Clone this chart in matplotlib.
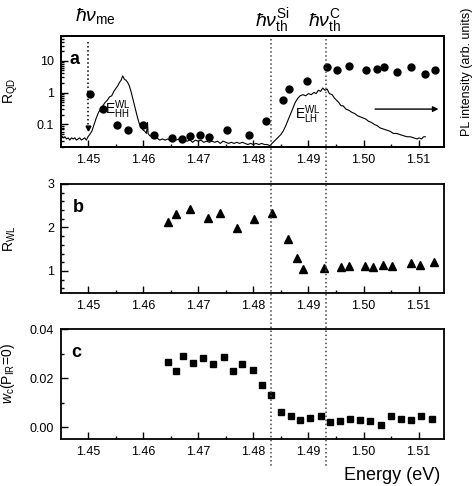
import matplotlib
matplotlib.use('Agg')
import matplotlib.pyplot as plt
from matplotlib.ticker import MultipleLocator, FixedLocator, FuncFormatter, NullFormatter, LogLocator
import matplotlib.transforms as mtransforms

plt.rcParams['font.family'] = ['Liberation Sans', 'DejaVu Sans']
plt.rcParams['mathtext.fontset'] = 'custom'
plt.rcParams['mathtext.rm'] = 'Liberation Sans'
plt.rcParams['mathtext.it'] = 'Liberation Sans:italic'
plt.rcParams['mathtext.bf'] = 'Liberation Sans:bold'

# ---------------- data ----------------
# panel a: R_QD (log scale)
rqd_energy = [1.4504, 1.4527, 1.4553, 1.4573, 1.4600, 1.4620, 1.4652, 1.4670, 1.4685,
              1.4704, 1.4720, 1.4753, 1.4793, 1.4823, 1.4853, 1.4864, 1.4898, 1.4933,
              1.4952, 1.4973, 1.5005, 1.5025, 1.5037, 1.5061, 1.5087, 1.5112, 1.5130]
rqd_value = [0.93, 0.31, 0.093, 0.065, 0.093, 0.048, 0.038, 0.036, 0.042,
             0.047, 0.040, 0.068, 0.048, 0.124, 0.57, 1.27, 2.3, 6.3,
             5.0, 6.7, 5.0, 5.6, 6.2, 4.4, 6.2, 3.8, 5.0]

# PL spectrum (arb. units, right axis)
pl_energy = [1.4452, 1.4455, 1.4458, 1.4461, 1.4464, 1.4467, 1.4470, 1.4473, 1.4476, 1.4479,
             1.4482, 1.4485, 1.4488, 1.4491, 1.4494, 1.4497, 1.4500, 1.4503, 1.4507, 1.4511,
             1.4515, 1.4519, 1.4523, 1.4527, 1.4531, 1.4535, 1.4539, 1.4543, 1.4547, 1.4551,
             1.4554, 1.4557, 1.4560, 1.4563, 1.4566, 1.4569, 1.4572, 1.4575, 1.4578, 1.4581,
             1.4584, 1.4587, 1.4590, 1.4593, 1.4597, 1.4600, 1.4603, 1.4606, 1.4608, 1.4609,
             1.4612, 1.4616, 1.4620, 1.4625, 1.4630, 1.4635, 1.4640, 1.4645, 1.4650, 1.4655,
             1.4660, 1.4665, 1.4670, 1.4675, 1.4680, 1.4685, 1.4690, 1.4695, 1.4700, 1.4705,
             1.4710, 1.4715, 1.4720, 1.4725, 1.4730, 1.4735, 1.4740, 1.4745, 1.4750, 1.4755,
             1.4760, 1.4765, 1.4770, 1.4775, 1.4780, 1.4785, 1.4790, 1.4795, 1.4800, 1.4805,
             1.4810, 1.4815, 1.4820, 1.4825, 1.4830, 1.4834, 1.4838, 1.4842, 1.4846, 1.4850,
             1.4854, 1.4858, 1.4863, 1.4868, 1.4872, 1.4876, 1.4881, 1.4885, 1.4890, 1.4895,
             1.4900, 1.4905, 1.4910, 1.4914, 1.4918, 1.4922, 1.4926, 1.4930, 1.4934, 1.4938,
             1.4943, 1.4947, 1.4951, 1.4955, 1.4959, 1.4963, 1.4968, 1.4973, 1.4979, 1.4984,
             1.4989, 1.4994, 1.4999, 1.5004, 1.5009, 1.5014, 1.5020, 1.5025, 1.5030, 1.5036,
             1.5042, 1.5048, 1.5054, 1.5060, 1.5066, 1.5072, 1.5079, 1.5085, 1.5091, 1.5097,
             1.5101, 1.5105, 1.5109, 1.5112]
pl_value = [0.10, 0.08, 0.09, 0.07, 0.08, 0.06, 0.08, 0.07, 0.08, 0.06,
            0.07, 0.08, 0.06, 0.07, 0.08, 0.06, 0.09, 0.11, 0.14, 0.20,
            0.26, 0.31, 0.34, 0.37, 0.40, 0.42, 0.45, 0.46, 0.50, 0.53,
            0.55, 0.58, 0.60, 0.64, 0.61, 0.60, 0.58, 0.55, 0.50, 0.44,
            0.38, 0.32, 0.26, 0.21, 0.17, 0.15, 0.14, 0.12, 0.22, 0.12,
            0.10, 0.09, 0.08, 0.08, 0.06, 0.07, 0.06, 0.07, 0.05, 0.07,
            0.06, 0.07, 0.05, 0.06, 0.05, 0.06, 0.04, 0.06, 0.05, 0.06,
            0.04, 0.05, 0.04, 0.05, 0.04, 0.05, 0.03, 0.05, 0.04, 0.03,
            0.04, 0.03, 0.04, 0.03, 0.04, 0.03, 0.02, 0.03, 0.02, 0.03,
            0.02, 0.03, 0.02, 0.02, 0.01, 0.03, 0.05, 0.07, 0.09, 0.11,
            0.14, 0.18, 0.24, 0.30, 0.35, 0.40, 0.44, 0.46, 0.47, 0.46,
            0.48, 0.47, 0.49, 0.48, 0.51, 0.50, 0.53, 0.51, 0.52, 0.48,
            0.47, 0.44, 0.42, 0.40, 0.37, 0.37, 0.34, 0.33, 0.31, 0.30,
            0.28, 0.27, 0.26, 0.25, 0.23, 0.22, 0.20, 0.19, 0.17, 0.16,
            0.15, 0.14, 0.12, 0.12, 0.11, 0.10, 0.09, 0.09, 0.08, 0.07,
            0.08, 0.07, 0.09, 0.09]

# panel b: R_WL
rwl_energy = [1.4645, 1.4659, 1.4685, 1.4717, 1.4740, 1.4770, 1.4801, 1.4833, 1.4863, 1.4880,
              1.4890, 1.4928, 1.4960, 1.4974, 1.5002, 1.5017, 1.5036, 1.5052, 1.5087, 1.5103,
              1.5127]
rwl_value = [2.12, 2.30, 2.43, 2.22, 2.34, 1.99, 2.20, 2.33, 1.74, 1.29,
             1.05, 1.06, 1.09, 1.11, 1.11, 1.08, 1.14, 1.11, 1.18, 1.14,
             1.20]

# panel c: w_c(P_IR=0)
wc_energy = [1.4645, 1.4659, 1.4672, 1.4691, 1.4709, 1.4727, 1.4746, 1.4764, 1.4779, 1.4799,
             1.4815, 1.4832, 1.4850, 1.4868, 1.4885, 1.4903, 1.4922, 1.4940, 1.4958, 1.4976,
             1.4994, 1.5012, 1.5032, 1.5050, 1.5068, 1.5087, 1.5104, 1.5124]
wc_value = [0.0268, 0.0230, 0.0291, 0.0261, 0.0282, 0.0257, 0.0286, 0.0230, 0.0257, 0.0234,
            0.0171, 0.0133, 0.0061, 0.0046, 0.0027, 0.0039, 0.0047, 0.0019, 0.0024, 0.0031,
            0.0030, 0.0023, 0.0009, 0.0045, 0.0034, 0.0029, 0.0045, 0.0033]

hv_me = 1.4500
hv_th_si = 1.4832
hv_th_c = 1.4931
x_ticks = [1.45, 1.46, 1.47, 1.48, 1.49, 1.50, 1.51]
x_tick_labels = ['1.45', '1.46', '1.47', '1.48', '1.49', '1.50', '1.51']

# ---------------- figure ----------------
fig = plt.figure(figsize=(4.74, 4.86), dpi=100)
L, W = 0.1287, 0.808
axa = fig.add_axes([L, 0.6981, W, 0.2278])
axb = fig.add_axes([L, 0.3977, W, 0.2237])
axc = fig.add_axes([L, 0.0961, W, 0.2263])

for ax in (axa, axb, axc):
    ax.set_xlim(1.4451, 1.5146)
    ax.xaxis.set_major_locator(FixedLocator(x_ticks))
    ax.set_xticklabels(x_tick_labels)
    ax.xaxis.set_minor_locator(MultipleLocator(0.005))
    ax.tick_params(which='both', direction='in', top=False, right=False, labelsize=9, width=1.0)
    ax.tick_params(which='major', length=5, pad=5)
    ax.tick_params(which='minor', length=2.5)
    for s in ax.spines.values():
        s.set_linewidth(1.3)

# panel a
axa.set_yscale('log')
axa.set_ylim(0.02, 60)
axa.yaxis.set_major_locator(FixedLocator([0.1, 1, 10]))
axa.yaxis.set_major_formatter(FuncFormatter(lambda v, p: f'{v:g}'))
axa.yaxis.set_minor_locator(LogLocator(base=10, subs=[2, 3, 4, 5, 6, 7, 8, 9]))
axa.yaxis.set_minor_formatter(NullFormatter())
axa.plot(rqd_energy, rqd_value, 'o', color='black', markersize=5, zorder=5)
axa.plot([hv_me, hv_me], [40, 0.08], ':', color='black', lw=1.1)
axa.plot([hv_me], [0.075], 'v', color='black', markersize=3.5)
axa.set_ylabel(r'R$_\mathrm{QD}$', fontsize=10)
axa.yaxis.set_label_coords(-0.108, 0.5)
axa.text(0.023, 0.79, 'a', transform=axa.transAxes, fontsize=13, fontweight='bold', va='center', ha='left')

axa2 = axa.twinx()
axa2.set_ylim(0, 1)
axa2.set_yticks([])
axa2.plot(pl_energy, pl_value, '-', color='black', lw=0.8)
axa2.set_ylabel('PL intensity (arb. units)', fontsize=9, rotation=90)
axa2.yaxis.set_label_coords(1.044, 0.68)
axa2.text(1.4531, 0.33, r'E$^{\mathrm{WL}}_{\mathrm{HH}}$', fontsize=10, va='center', ha='left')
axa2.text(1.4875, 0.29, r'E$^{\mathrm{WL}}_{\mathrm{LH}}$', fontsize=10, va='center', ha='left')
axa2.annotate('', xy=(1.5136, 0.34), xytext=(1.5021, 0.34),
              arrowprops=dict(arrowstyle='-|>', color='black', lw=1.0, mutation_scale=8,
                              shrinkA=0, shrinkB=0))
for s in axa2.spines.values():
    s.set_linewidth(1.3)

# panel b
axb.set_ylim(0.5, 3)
axb.yaxis.set_major_locator(FixedLocator([1, 2, 3]))
axb.yaxis.set_minor_locator(MultipleLocator(0.2))
axb.plot(rwl_energy, rwl_value, '^', color='black', markersize=5.5)
axb.set_ylabel(r'R$_\mathrm{WL}$', fontsize=10)
axb.yaxis.set_label_coords(-0.112, 0.5)
axb.text(0.03, 0.78, 'b', transform=axb.transAxes, fontsize=13, fontweight='bold', va='center', ha='left')

# panel c
axc.set_ylim(-0.005, 0.04)
axc.yaxis.set_major_locator(FixedLocator([0.0, 0.02, 0.04]))
axc.yaxis.set_major_formatter(FuncFormatter(lambda v, p: f'{v:.2f}'))
axc.yaxis.set_minor_locator(MultipleLocator(0.01))
axc.plot(wc_energy, wc_value, 's', color='black', markersize=4.5)
axc.set_ylabel(r'$\mathit{w}_\mathrm{c}$(P$_\mathrm{IR}$=0)', fontsize=10)
axc.yaxis.set_label_coords(-0.115, 0.6)
axc.text(0.028, 0.785, 'c', transform=axc.transAxes, fontsize=13, fontweight='bold', va='center', ha='left')
axc.set_xlabel('Energy (eV)', fontsize=13, loc='right', labelpad=4)
axc.xaxis.set_label_coords(0.99, -0.255, transform=axc.transAxes)
axc.xaxis.label.set_va('top')

# threshold lines across all panels
trans = mtransforms.blended_transform_factory(axc.transData, fig.transFigure)
for e in (hv_th_si, hv_th_c):
    fig.add_artist(plt.Line2D([e, e], [1 - 39 / 486, 1 - 468 / 486], transform=trans,
                              linestyle=':', color='#444444', lw=1.1, zorder=10))

# top labels
fig.text(1.4476, 1 - 21 / 486, r'$\mathit{ħν}_{\mathrm{me}}$', transform=trans, fontsize=14,
         ha='left', va='baseline')
fig.text(1.4803, 1 - 26 / 486, r'$\mathit{ħν}^{\mathrm{Si}}_{\mathrm{th}}$', transform=trans, fontsize=14,
         ha='left', va='baseline')
fig.text(1.4899, 1 - 26 / 486, r'$\mathit{ħν}^{\mathrm{C}}_{\mathrm{th}}$', transform=trans, fontsize=14,
         ha='left', va='baseline')

fig.savefig('out.png', dpi=100)
